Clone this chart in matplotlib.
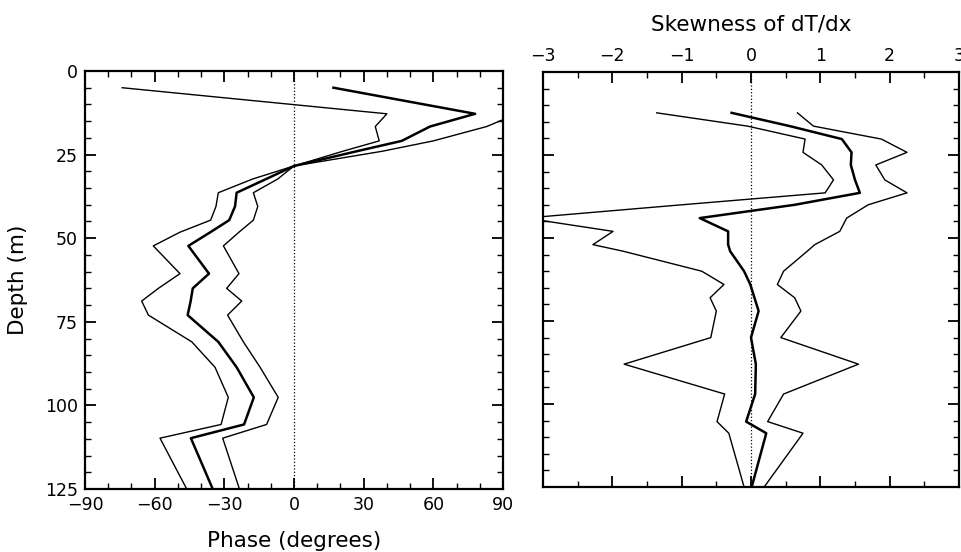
import numpy as np
import matplotlib
matplotlib.use("Agg")
import matplotlib.pyplot as plt
from matplotlib.ticker import MultipleLocator

# left panel: phase vs depth (lower bound, mean, upper bound)
phase_depth = [5, 12.8, 16.6, 20.9, 24, 28.4, 32.3, 36.4, 40.5, 44.6, 48.2, 52.3,
               60.6, 65, 68.8, 73, 81, 88.6, 97.6, 105.7, 109.8, 125]
phase_lo = [-74, 40, 35, 36.7, 21, 0, -17.8, -32.6, -33.6, -35.9, -49.1, -60.6,
            -49.1, -58.4, -65.6, -62.7, -44, -34, -28.3, -31.4, -57.7, -46.2]
phase_mean = [17, 78, 58.6, 46.4, 27, 0, -12, -24.7, -25.4, -27.9, -36, -45.5,
              -36.6, -43.6, -44.5, -45.8, -32.6, -24.7, -17.3, -21.5, -44.4, -35]
phase_hi = [140, 96, 83, 60, 38, 0, -7, -17.5, -15.6, -17.5, -23.7, -30.4,
            -23.7, -29, -22.5, -28.6, -21.8, -14.6, -6.8, -11.8, -30.7, -23.5]

# right panel: skewness of dT/dx vs depth
skew_depth = [12.3, 16.3, 20.2, 24.2, 28, 32.5, 36.4, 40, 44, 48, 52, 54,
              60, 64, 68, 72, 80, 88, 97, 105.3, 108.8, 125]
skew_lo = [-1.36, -0.05, 0.78, 0.75, 1.02, 1.19, 1.07, -1.0, -3.25, -1.99, -2.28, -1.84,
           -0.71, -0.39, -0.59, -0.5, -0.58, -1.83, -0.38, -0.49, -0.32, -0.1]
skew_mean = [-0.28, 0.56, 1.31, 1.45, 1.44, 1.5, 1.57, 0.63, -0.74, -0.33, -0.33, -0.3,
             -0.1, -0.01, 0.05, 0.11, 0.0, 0.07, 0.06, -0.07, 0.22, 0.01]
skew_hi = [0.67, 0.9, 1.88, 2.25, 1.8, 1.93, 2.25, 1.69, 1.38, 1.28, 0.92, 0.81,
           0.47, 0.38, 0.63, 0.72, 0.43, 1.55, 0.47, 0.24, 0.75, 0.19]

plt.rcParams['font.family'] = 'DejaVu Sans'

fig = plt.figure(figsize=(9.62, 5.52), dpi=100)
ax1 = fig.add_axes([85/962, 63/552, 418/962, 418/552])
ax2 = fig.add_axes([543/962, 65/552, 416/962, 415/552])


def style(ax):
    for s in ax.spines.values():
        s.set_linewidth(1.6)
    ax.tick_params(which='both', direction='in', top=True, right=True,
                   labelsize=12.5, width=1.3, pad=5)
    ax.tick_params(which='major', length=8)
    ax.tick_params(which='minor', length=4, width=1.0)
    ax.yaxis.set_major_locator(MultipleLocator(25))
    ax.yaxis.set_minor_locator(MultipleLocator(5))
    ax.set_ylim(125, 0)


# left
ax1.plot(phase_lo, phase_depth, color='black', lw=1.0)
ax1.plot(phase_mean, phase_depth, color='black', lw=1.8)
ax1.plot(phase_hi, phase_depth, color='black', lw=1.0)
ax1.axvline(0, color='black', lw=0.9, ls=':')
ax1.set_xlim(-90, 90)
style(ax1)
ax1.xaxis.set_major_locator(MultipleLocator(30))
ax1.xaxis.set_minor_locator(MultipleLocator(10))
ax1.set_xlabel('Phase (degrees)', fontsize=15.5, labelpad=12)
ax1.set_ylabel('Depth (m)', fontsize=15.5, labelpad=12)

# right
ax2.plot(skew_lo, skew_depth, color='black', lw=1.0)
ax2.plot(skew_mean, skew_depth, color='black', lw=1.8)
ax2.plot(skew_hi, skew_depth, color='black', lw=1.0)
ax2.axvline(0, color='black', lw=0.9, ls=':')
ax2.set_xlim(-3, 3)
style(ax2)
ax2.xaxis.set_major_locator(MultipleLocator(1))
ax2.xaxis.set_minor_locator(MultipleLocator(0.5))
ax2.tick_params(labelbottom=False, labeltop=True, labelleft=False)
ax2.xaxis.set_label_position('top')
ax2.set_xlabel('Skewness of dT/dx', fontsize=15.5, labelpad=12)

fig.savefig('out.png', dpi=100)
